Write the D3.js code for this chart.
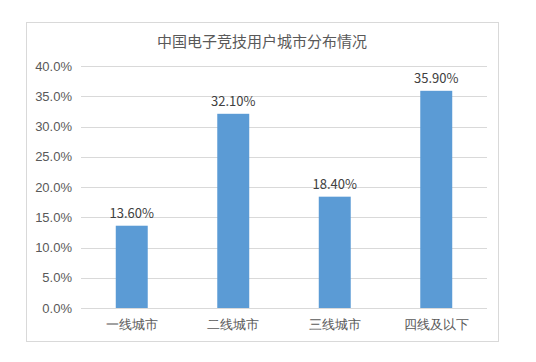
<!DOCTYPE html>
<html>
<head>
<meta charset="utf-8">
<script src="https://cdn.jsdelivr.net/npm/d3@7"></script>
<style>
  html, body { margin: 0; padding: 0; background: #fff; }
  svg { display: block; font-family: "Noto Sans CJK SC", "Noto Sans", sans-serif; }
</style>
</head>
<body>
<svg id="chart" width="536" height="362"></svg>
<script>
// 中国电子竞技用户城市分布情况
const title = "中国电子竞技用户城市分布情况";
const categories = ["一线城市", "二线城市", "三线城市", "四线及以下"];
const shares = [13.6, 32.1, 18.4, 35.9];
const yTicks = [0, 5, 10, 15, 20, 25, 30, 35, 40];

const W = 536, H = 362;
const box = { x: 26, y: 22, w: 472, h: 319 };
const plot = { left: 81, right: 487, top: 66, bottom: 308 };

const svg = d3.select("#chart");

svg.append("rect")
  .attr("x", box.x + 0.5).attr("y", box.y + 0.5)
  .attr("width", box.w).attr("height", box.h)
  .attr("fill", "#fff").attr("stroke", "#d9d9d9");

const x = d3.scaleBand().domain(categories)
  .range([plot.left, plot.right]).paddingInner(0.685).paddingOuter(0.3425);
const y = d3.scaleLinear().domain([0, 40]).range([plot.bottom, plot.top]);

// grid
svg.append("g").selectAll("line")
  .data(yTicks).join("line")
  .attr("x1", plot.left).attr("x2", plot.right)
  .attr("y1", (d) => Math.round(y(d)) + 0.5).attr("y2", (d) => Math.round(y(d)) + 0.5)
  .attr("stroke", "#d9d9d9");

// y axis labels
const yAxis = svg.append("g")
  .attr("transform", `translate(${plot.left},0)`)
  .call(d3.axisLeft(y).tickValues(yTicks).tickSize(0).tickPadding(9)
    .tickFormat((d) => d.toFixed(1) + "%"));
yAxis.select(".domain").remove();
yAxis.selectAll("text").attr("fill", "#595959").style("font-size", "13px");

// bars
svg.append("g").selectAll("rect")
  .data(shares).join("rect")
  .attr("x", (d, i) => x(categories[i]))
  .attr("y", (d) => y(d))
  .attr("width", x.bandwidth())
  .attr("height", (d) => y(0) - y(d))
  .attr("fill", "#5b9bd5");

// value labels
svg.append("g").selectAll("text")
  .data(shares).join("text")
  .attr("x", (d, i) => x(categories[i]) + x.bandwidth() / 2)
  .attr("y", (d) => y(d) - 8)
  .attr("text-anchor", "middle")
  .attr("fill", "#404040").style("font-size", "13px")
  .text((d) => d.toFixed(2) + "%");

// x axis
const xAxis = svg.append("g")
  .attr("transform", `translate(0,${plot.bottom})`)
  .call(d3.axisBottom(x).tickSize(0).tickPadding(12));
xAxis.select(".domain").remove();
xAxis.selectAll("text").attr("fill", "#595959").style("font-size", "12.5px");

// title
svg.append("text")
  .attr("x", 262).attr("y", 47)
  .attr("text-anchor", "middle")
  .attr("fill", "#595959").style("font-size", "15px")
  .text(title);
</script>
</body>
</html>
